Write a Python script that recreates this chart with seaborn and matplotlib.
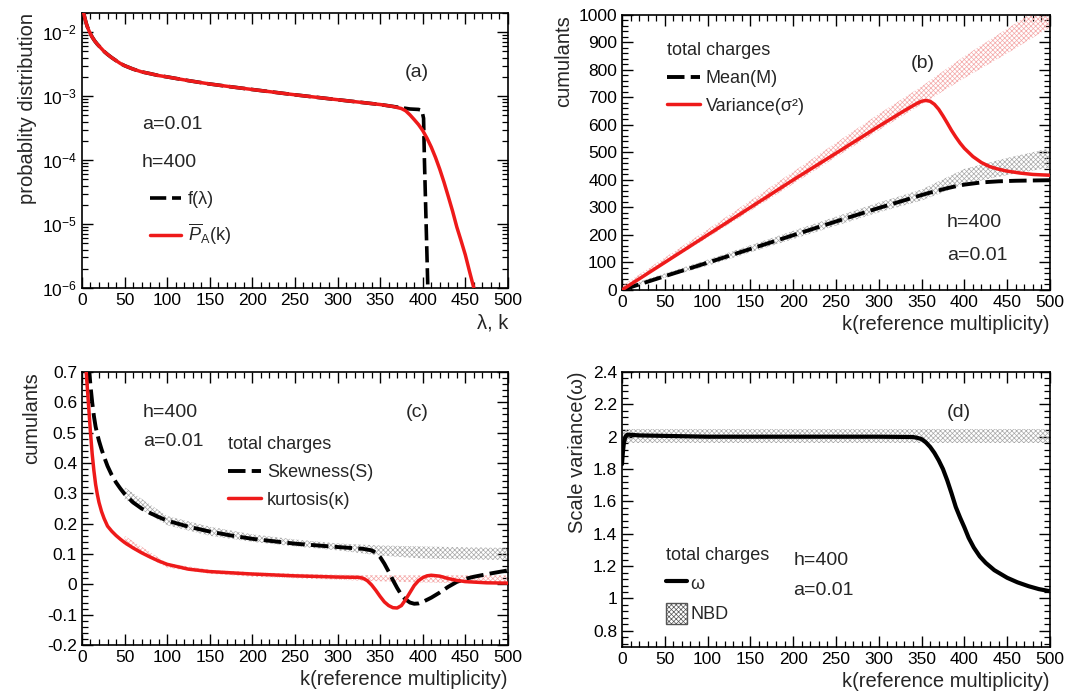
import matplotlib
matplotlib.use("Agg")
import numpy as np
import pandas as pd
import seaborn as sns
import matplotlib.pyplot as plt
from matplotlib.ticker import MultipleLocator, FuncFormatter, LogLocator, NullFormatter
from matplotlib.lines import Line2D
from matplotlib.patches import Patch

# ---------------- data ----------------
# panel (a)
lam_f = [2, 3, 4, 5, 6, 8, 10, 12, 15, 18, 22, 26, 30, 35, 40, 45, 50, 60, 70, 80, 90, 100, 125, 150, 175,
         200, 250, 300, 350, 375, 385, 395, 399, 401, 402, 404, 406, 407]
f_vals = [2.0e-2, 1.75e-2, 1.55e-2, 1.38e-2, 1.25e-2, 1.07e-2, 9.4e-3, 8.4e-3, 7.3e-3, 6.5e-3, 5.7e-3, 5.0e-3,
          4.5e-3, 4.0e-3, 3.6e-3, 3.25e-3, 3.0e-3, 2.65e-3, 2.4e-3, 2.25e-3, 2.1e-3, 2.0e-3, 1.75e-3, 1.55e-3,
          1.4e-3, 1.27e-3, 1.05e-3, 8.8e-4, 7.4e-4, 6.6e-4, 6.3e-4, 6.2e-4, 6.0e-4, 4.5e-4, 1.0e-4, 1.0e-5,
          1.0e-6, 5.0e-7]
k_pa = [2, 3, 4, 5, 6, 8, 10, 12, 15, 18, 22, 26, 30, 35, 40, 45, 50, 60, 70, 80, 90, 100, 125, 150, 175,
        200, 250, 300, 350, 365, 375, 380, 385, 390, 395, 400, 405, 410, 415, 420, 425, 430, 435, 440, 445,
        450, 455, 460, 465]
pa_vals = [2.0e-2, 1.75e-2, 1.55e-2, 1.38e-2, 1.25e-2, 1.07e-2, 9.4e-3, 8.4e-3, 7.3e-3, 6.5e-3, 5.7e-3, 5.0e-3,
           4.5e-3, 4.0e-3, 3.6e-3, 3.25e-3, 3.0e-3, 2.65e-3, 2.4e-3, 2.25e-3, 2.1e-3, 2.0e-3, 1.75e-3, 1.55e-3,
           1.4e-3, 1.27e-3, 1.05e-3, 8.8e-4, 7.4e-4, 6.9e-4, 6.4e-4, 5.9e-4, 5.1e-4, 4.3e-4, 3.6e-4, 2.9e-4,
           2.2e-4, 1.6e-4, 1.1e-4, 7.2e-5, 4.5e-5, 2.7e-5, 1.6e-5, 9.0e-6, 5.5e-6, 3.3e-6, 1.8e-6, 1.0e-6, 5.5e-7]

# panel (b)
k_mean = [0, 25, 50, 100, 150, 200, 250, 300, 330, 340, 350, 360, 370, 380, 390, 400, 410, 420, 440, 460, 480, 500]
mean_b = [0, 25, 50, 99, 149, 199, 249, 298, 326, 336, 345, 354, 362, 370, 377, 383, 387, 391, 395, 397, 398, 399]
k_var = [0, 25, 50, 100, 150, 200, 250, 300, 330, 340, 345, 350, 355, 360, 365, 370, 375, 380, 385, 390, 395,
         400, 410, 420, 430, 440, 450, 465, 480, 500]
var_b = [0, 50, 100, 200, 300, 400, 497, 595, 652, 670, 679, 686, 689, 686, 675, 657, 633, 607, 580, 556, 534,
         515, 485, 463, 448, 439, 432, 425, 420, 417]
k_nbd_b = [0, 100, 200, 300, 350, 400, 450, 500]
mean_lo = [0, 88, 185, 282, 325, 385, 418, 445]
mean_hi = [10, 110, 215, 318, 365, 440, 480, 515]
var_lo = [0, 190, 385, 580, 675, 770, 860, 955]
var_hi = [15, 220, 430, 640, 740, 850, 950, 1050]

# panel (c)
k_s = [8, 10, 12, 14, 16, 18, 20, 23, 26, 30, 35, 40, 45, 50, 60, 70, 80, 90, 100, 125, 150, 175, 200, 250,
       300, 330, 340, 345, 350, 355, 360, 365, 370, 375, 380, 385, 390, 395, 400, 410, 420, 430, 440, 450,
       460, 480, 500]
skew = [0.72, 0.655, 0.60, 0.555, 0.52, 0.495, 0.473, 0.445, 0.42, 0.39, 0.36, 0.336, 0.316, 0.298, 0.27, 0.25,
        0.235, 0.222, 0.21, 0.19, 0.174, 0.161, 0.15, 0.134, 0.123, 0.117, 0.112, 0.104, 0.09, 0.068, 0.042,
        0.014, -0.012, -0.035, -0.05, -0.06, -0.064, -0.063, -0.058, -0.044, -0.027, -0.008, 0.008, 0.018,
        0.025, 0.036, 0.046]
k_k = [5, 6, 8, 10, 12, 14, 16, 18, 20, 23, 26, 30, 35, 40, 45, 50, 60, 70, 80, 90, 100, 125, 150, 200, 250,
       300, 325, 330, 335, 340, 345, 350, 355, 360, 365, 370, 375, 380, 385, 390, 395, 400, 405, 410, 420,
       430, 440, 450, 475, 500]
kurt = [0.70, 0.66, 0.58, 0.50, 0.43, 0.375, 0.33, 0.297, 0.27, 0.24, 0.217, 0.192, 0.175, 0.161, 0.149,
        0.138, 0.12, 0.104, 0.09, 0.077, 0.066, 0.05, 0.042, 0.034, 0.028, 0.024, 0.023, 0.02, 0.012, -0.002,
        -0.02, -0.04, -0.058, -0.07, -0.077, -0.078, -0.07, -0.05, -0.027, -0.004, 0.012, 0.022, 0.028, 0.03,
        0.027, 0.019, 0.013, 0.009, 0.005, 0.004]
k_nbd_c = [50, 100, 150, 200, 250, 300, 350, 400, 450, 500]
skew_lo = [0.28, 0.195, 0.16, 0.14, 0.125, 0.112, 0.095, 0.085, 0.082, 0.080]
skew_hi = [0.32, 0.225, 0.19, 0.165, 0.148, 0.135, 0.128, 0.125, 0.122, 0.120]
kurt_lo = [0.13, 0.055, 0.035, 0.025, 0.02, 0.015, 0.01, 0.006, 0.004, 0.003]
kurt_hi = [0.16, 0.07, 0.048, 0.04, 0.035, 0.032, 0.03, 0.03, 0.03, 0.03]

# panel (d)
k_w = [0, 1, 2, 3, 4, 6, 10, 20, 50, 100, 200, 300, 340, 345, 350, 355, 360, 365, 370, 375, 380, 385, 390,
       395, 400, 405, 411, 418, 425, 435, 450, 462, 475, 487, 500]
omega = [1.83, 1.90, 1.95, 1.98, 2.0, 2.012, 2.012, 2.008, 2.005, 2.0, 2.0, 2.0, 1.998, 1.993, 1.985, 1.965,
         1.937, 1.90, 1.854, 1.80, 1.73, 1.65, 1.565, 1.50, 1.44, 1.375, 1.315, 1.26, 1.22, 1.175, 1.128, 1.10,
         1.076, 1.058, 1.045]
k_nbd_d = [0, 500]
omega_lo = [1.96, 1.96]
omega_hi = [2.05, 2.05]

x_ticks = [0, 50, 100, 150, 200, 250, 300, 350, 400, 450, 500]

# ---------------- style ----------------
sns.set_style("ticks")
plt.rcParams.update({
    "xtick.direction": "in", "ytick.direction": "in",
    "xtick.top": True, "ytick.right": True,
    "xtick.major.size": 8, "ytick.major.size": 8,
    "xtick.minor.size": 4, "ytick.minor.size": 4,
    "xtick.major.width": 1.0, "ytick.major.width": 1.0,
    "xtick.minor.width": 0.9, "ytick.minor.width": 0.9,
    "xtick.color": "black", "ytick.color": "black",
    "axes.edgecolor": "black", "axes.linewidth": 1.2,
    "xtick.labelsize": 12.5, "ytick.labelsize": 12.5,
    "axes.labelsize": 14.5,
    "axes.unicode_minus": False,
    "hatch.linewidth": 0.5,
    "mathtext.fontset": "custom",
    "mathtext.rm": "Liberation Sans",
    "mathtext.it": "Liberation Sans:italic",
    "mathtext.bf": "Liberation Sans:bold",
})
plt.rcParams["font.family"] = ["Liberation Sans", "DejaVu Sans"]

RED = "#ee1a1a"
DASH = (0, (4.5, 1.6))
GREY_H = "#a8a8a8"
PINK_H = "#f4a8a8"
HATCH = "xxxxxxx"

fig = plt.figure(figsize=(10.77, 6.97), dpi=100)
axa = fig.add_axes([0.0761, 0.5868, 0.3955, 0.3946])
axb = fig.add_axes([0.5775, 0.5840, 0.3974, 0.3946])
axc = fig.add_axes([0.0761, 0.0746, 0.3955, 0.3917])
axd = fig.add_axes([0.5775, 0.0717, 0.3974, 0.3946])


def gfmt(v, p):
    s = f"{round(v, 6):g}"
    return "0" if s == "-0" else s


def common_x(ax):
    ax.set_xlim(0, 500)
    ax.set_xticks(x_ticks)
    ax.xaxis.set_minor_locator(MultipleLocator(10))
    ax.tick_params(which="both", top=True, right=True, direction="in")
    for s in ax.spines.values():
        s.set_visible(True)
        s.set_linewidth(1.2)


def lab(ax, x, y, s, ha="left", size=14):
    ax.text(x, y, s, transform=ax.transAxes, ha=ha, va="center", fontsize=size)


def band(ax, x, lo, hi, color):
    ax.fill_between(x, lo, hi, facecolor="none", edgecolor=color, hatch=HATCH, linewidth=0, zorder=1)


# ---------------- (a) ----------------
axa.set_yscale("log")
sns.lineplot(x=lam_f, y=f_vals, ax=axa, color="black", linewidth=2.6, linestyle=DASH, zorder=3)
sns.lineplot(x=k_pa, y=pa_vals, ax=axa, color=RED, linewidth=2.5, zorder=4)
common_x(axa)
axa.set_ylim(1e-6, 2e-2)
axa.yaxis.set_major_locator(LogLocator(base=10, numticks=10))
axa.yaxis.set_minor_locator(LogLocator(base=10, subs=np.arange(2, 10), numticks=20))
axa.yaxis.set_minor_formatter(NullFormatter())
axa.set_xlabel("λ, k", loc="right")
axa.set_ylabel("probablity distribution", loc="top")
lab(axa, 0.786, 0.785, "(a)", ha="center")
lab(axa, 0.141, 0.593, "a=0.01")
lab(axa, 0.141, 0.455, "h=400")
h_a = [Line2D([], [], color="black", lw=2.6, linestyle=DASH),
       Line2D([], [], color=RED, lw=2.5)]
axa.legend(h_a, ["f(λ)", r"$\overline{P}_{\mathregular{A}}$(k)"], loc="center left",
           bbox_to_anchor=(0.16, 0.25), frameon=False, fontsize=13, borderpad=0, borderaxespad=0,
           handlelength=1.7, handletextpad=0.4, labelspacing=0.75)

# ---------------- (b) ----------------
band(axb, k_nbd_b, var_lo, var_hi, PINK_H)
band(axb, k_nbd_b, mean_lo, mean_hi, GREY_H)
sns.lineplot(x=k_mean, y=mean_b, ax=axb, color="black", linewidth=2.8, linestyle=DASH, zorder=3)
sns.lineplot(x=k_var, y=var_b, ax=axb, color=RED, linewidth=2.5, zorder=4)
common_x(axb)
axb.set_ylim(0, 1000)
axb.yaxis.set_major_locator(MultipleLocator(100))
axb.yaxis.set_minor_locator(MultipleLocator(20))
axb.yaxis.set_major_formatter(FuncFormatter(gfmt))
axb.set_xlabel("k(reference multiplicity)", loc="right")
axb.set_ylabel("cumulants", loc="top")
lab(axb, 0.703, 0.825, "(b)", ha="center")
lab(axb, 0.759, 0.244, "h=400")
lab(axb, 0.759, 0.127, "a=0.01")
h_b = [Line2D([], [], color="black", lw=2.8, linestyle=DASH),
       Line2D([], [], color=RED, lw=2.5)]
axb.legend(h_b, ["Mean(M)", "Variance(σ²)"], title="total charges", title_fontsize=13,
           alignment="left", loc="center left", bbox_to_anchor=(0.105, 0.769), frameon=False,
           fontsize=13, borderpad=0, borderaxespad=0, handlelength=1.85, handletextpad=0.3,
           labelspacing=0.6)

# ---------------- (c) ----------------
band(axc, k_nbd_c, kurt_lo, kurt_hi, PINK_H)
band(axc, k_nbd_c, skew_lo, skew_hi, GREY_H)
sns.lineplot(x=k_s, y=skew, ax=axc, color="black", linewidth=2.8, linestyle=DASH, zorder=3)
sns.lineplot(x=k_k, y=kurt, ax=axc, color=RED, linewidth=2.5, zorder=4)
common_x(axc)
axc.set_ylim(-0.2, 0.7)
axc.yaxis.set_major_locator(MultipleLocator(0.1))
axc.yaxis.set_minor_locator(MultipleLocator(0.02))
axc.yaxis.set_major_formatter(FuncFormatter(gfmt))
axc.set_xlabel("k(reference multiplicity)", loc="right")
axc.set_ylabel("cumulants", loc="top")
lab(axc, 0.786, 0.853, "(c)", ha="center")
lab(axc, 0.143, 0.85, "h=400")
lab(axc, 0.143, 0.744, "a=0.01")
h_c = [Line2D([], [], color="black", lw=2.8, linestyle=DASH),
       Line2D([], [], color=RED, lw=2.5)]
axc.legend(h_c, ["Skewness(S)", "kurtosis(κ)"], title="total charges", title_fontsize=13,
           alignment="left", loc="center left", bbox_to_anchor=(0.343, 0.632), frameon=False,
           fontsize=13, borderpad=0, borderaxespad=0, handlelength=1.85, handletextpad=0.3,
           labelspacing=0.6)

# ---------------- (d) ----------------
band(axd, k_nbd_d, omega_lo, omega_hi, GREY_H)
sns.lineplot(x=k_w, y=omega, ax=axd, color="black", linewidth=3.0, zorder=3)
common_x(axd)
axd.set_ylim(0.7, 2.4)
axd.yaxis.set_major_locator(MultipleLocator(0.2))
axd.yaxis.set_minor_locator(MultipleLocator(0.04))
axd.yaxis.set_major_formatter(FuncFormatter(gfmt))
axd.set_xlabel("k(reference multiplicity)", loc="right")
axd.set_ylabel("Scale variance(ω)", loc="top")
lab(axd, 0.787, 0.851, "(d)", ha="center")
lab(axd, 0.40, 0.316, "h=400")
lab(axd, 0.40, 0.204, "a=0.01")
h_d = [Line2D([], [], color="black", lw=3.0),
       Patch(facecolor="white", edgecolor="#555555", hatch=HATCH, linewidth=1.0)]
axd.legend(h_d, ["ω", "NBD"], title="total charges", title_fontsize=13,
           alignment="left", loc="center left", bbox_to_anchor=(0.103, 0.225), frameon=False,
           fontsize=13, borderpad=0, borderaxespad=0, handlelength=1.15, handleheight=1.4,
           handletextpad=0.2, labelspacing=0.5)

for ax in (axa, axb, axc, axd):
    leg = ax.get_legend()
    if leg is not None:
        leg.set_zorder(5)

fig.savefig("out.png", dpi=100)
